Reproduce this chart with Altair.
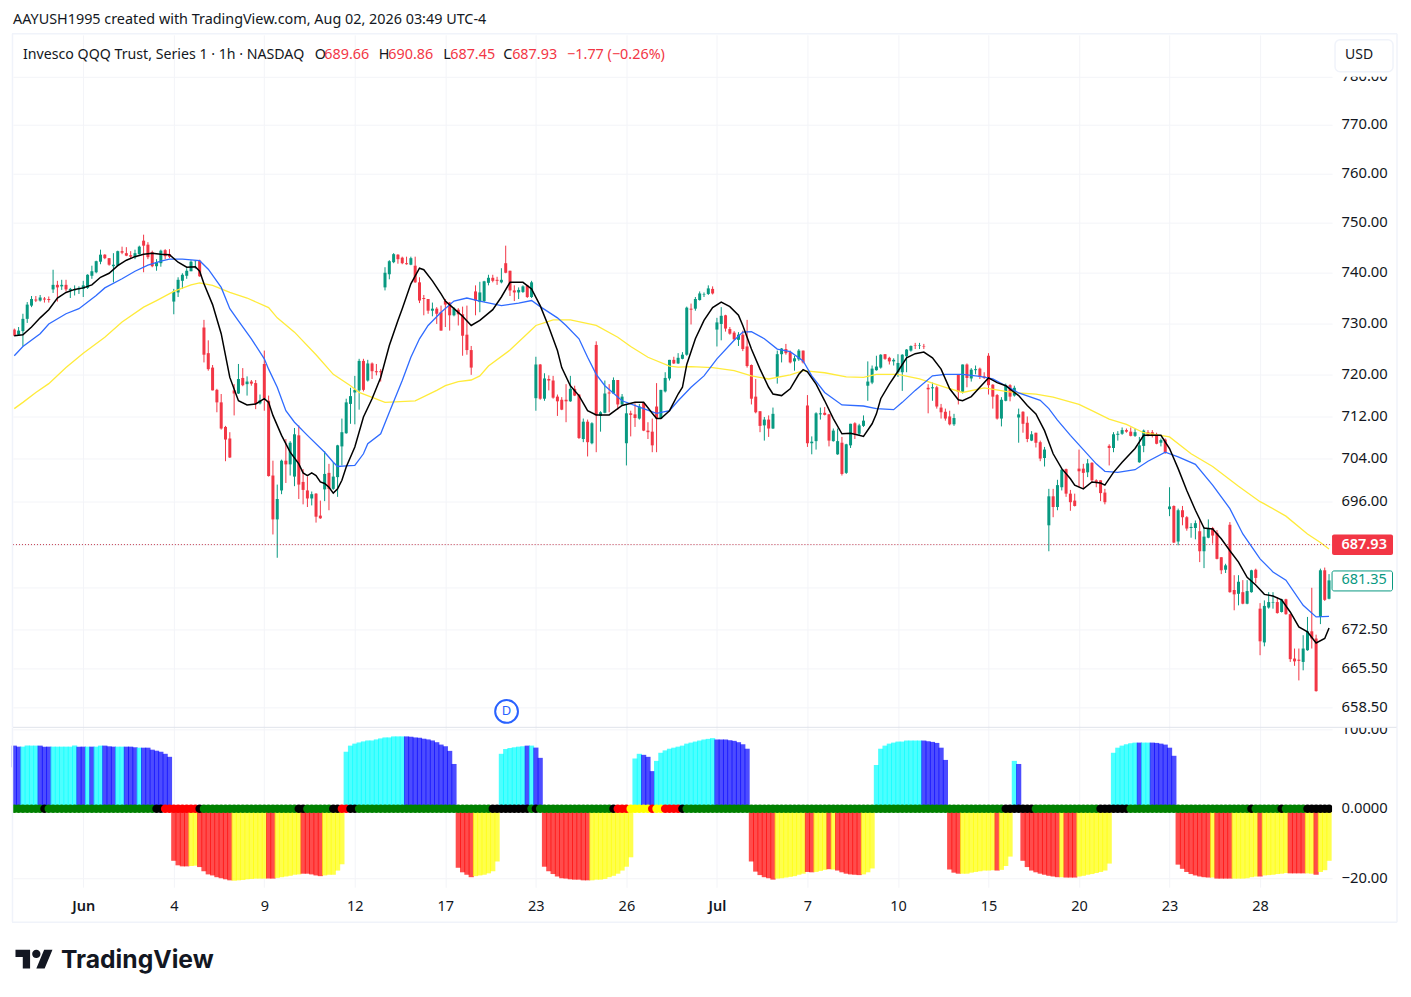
import json
import altair as alt
import pandas as pd

FONT = "Noto Sans"
INK = "#131722"
UP = "#089981"
DOWN = "#f23645"
GRID = "#f3f4f8"
FRAME = "#f0f3fa"

opens = [
728.8,727.8,728.5,730.9,733.5,734.7,734.5,734.9,734.8,736.7,
737.6,737.3,737.6,736.5,736.5,736.7,736.8,737,739.4,740.1,
742.2,743.6,742.9,741.3,741.4,744.3,743.9,743.5,743.1,743.7,
746.4,745.6,744.1,741.3,741.9,744.5,743.7,734.3,736.1,738.4,
739.4,740.3,742.3,742.4,729.2,724.2,721.4,717.1,714.7,710,
707.8,717,716.4,719.4,718.2,718.7,718.4,714.5,722.1,715,
700.8,692.6,698,703.6,702.9,700.6,708.4,699.6,698,696.5,
697.4,693.3,698.2,701.3,698.3,700.5,706.3,708.8,714.4,716.6,
717,722.7,718.9,722.2,720.7,720.7,737.1,739.7,742.1,743.6,
743,741.9,741.6,741.4,738.1,735,734.8,732.5,732.9,732.2,
734.4,734.1,731.6,732.7,731.8,727.8,724.8,736.3,734.2,734.4,
738,739,738.6,738.1,741.9,740.4,736.5,736.1,736.2,737.5,
735.2,715.5,722,715.4,719.2,718.9,715.8,715.2,715.2,714.9,
717.3,716.2,707.7,711,706.9,725.8,712.1,712.7,716.6,716.4,
719,714.3,706.9,712.6,712.4,711.6,714.6,709.3,709.1,713.9,
711.6,716.8,719.3,722.9,722.2,723.1,723.9,732.9,732.9,734.6,
735.7,735.8,736.8,728.8,729.9,731.6,728.9,728.2,726.8,727.8,
725.5,721.9,715.8,713,710.3,711.4,709.7,719.6,724,725,
724.4,722.6,723,724.7,714.1,706.9,707.3,712.4,712.7,712.4,
707.3,704.8,707,701.3,706.5,710.7,708.7,710.2,717.9,718.5,
720.9,721.4,724,723.3,722.6,720.5,720.5,723.6,724.7,725.7,
725.6,725.6,717.5,717.4,717.6,713.7,712.9,712,710.5,720,
716.7,722,719.3,720.9,721.2,719.7,723.7,718.1,716.1,711.6,
715,718,716,711.8,712.9,710.8,707.4,708.9,707.1,704.1,
691.5,696.9,694.9,698.6,702,697.4,696.1,702.1,702.1,701.4,
703.2,699.9,699.9,697.6,706.4,706,708.5,708.7,709.4,709.1,
708.3,703.3,706.4,709,709,708.5,707,707.6,694.5,695.1,
688.5,694.3,693,691,691,690.4,686.7,689.2,691,690.1,
685.6,683.3,691.6,679.6,678.9,679.2,677.1,679.2,683.3,676.2,
670.1,676.4,677.3,677.4,675.6,677.9,675.2,667.2,667,666.6,
668.7,672.1,670.8,674.7,683.2,678]
highs = [
729.0,729.3,731.9,734.2,735.4,735.4,735.6,735.2,735.3,740.6,
738.4,738.6,738.6,737,737.5,737.3,738.4,739.7,741.4,742.4,
744.6,743.7,742.9,743.9,744.4,745.2,745.1,744.3,744.6,745.4,
747.6,746.1,744.4,742.7,744.6,744.7,744.7,736.8,739.1,739.9,
740.9,742.5,742.5,742.6,730.7,726.7,721.9,717.3,716.3,710.2,
709,718.2,722.1,721.3,719.7,719,719,716.2,724.7,716,
703.6,699.1,703.8,707.7,707.3,709.8,710.3,702,700.6,697.8,
697.5,696.1,705.4,703,703.3,706.6,711.6,715.4,717.5,719.8,
723.1,723.1,722.9,722.4,722.1,721.1,741.1,742.5,743.9,743.7,
743.2,743.2,743.2,743.2,739.1,735.6,734.8,734.1,733.2,733.5,
734.8,734.2,733.2,733,733.3,733.5,725.6,737.5,738.2,738.4,
739.6,739.6,739.2,740.9,745.4,740.4,737.5,737.1,737.5,737.6,
738.4,723.5,722.1,720.3,719.9,719.8,716.2,715.7,718.2,719.8,
717.9,716.3,711.6,711.4,710.9,726.5,713,718.9,718.2,719.5,
719,716.3,714.4,713.1,714.5,714.4,714.7,710.9,711.6,718.4,
717.1,720.5,722.9,723.5,724.2,724.4,733.3,733.9,735.2,736.3,
736.1,737.5,737.3,731.1,733.2,731.7,729.3,728.5,728.3,728.6,
730.7,722,719.2,713,711.9,712.2,713.7,724.7,725.2,726,
724.7,723.7,725,724.7,716.1,708.2,712.8,713.7,713.8,712.5,
709.7,709.7,708.1,706.8,710.6,710.9,710.6,712.2,722.6,721.8,
723.7,724,724,723.5,723.2,724,724,725,725.7,726.2,
726.2,726,718.2,718.5,717.9,714.4,713.5,713.1,712.5,720.1,
722,722.2,721.3,721.8,721.4,720.5,724.2,718.2,716.3,715.7,
718.3,718.2,717.9,713.5,713,712,709.2,708.9,707.4,706.2,
698.3,698.3,700,702.1,702.1,698.1,697.4,705.7,703,703.9,
703.3,700.1,699.9,698.3,706.7,709,709.2,709.9,709.7,709.9,
709.7,708.1,709.5,709.4,709.4,708.9,707.8,707.8,698.6,695.2,
694.6,695.1,693.2,691.9,692.4,692.4,691.2,692.6,691.2,690.6,
685.6,684.4,692.1,682.3,682.3,681.4,681.4,683.3,683.5,677.2,
677.7,679.2,679.2,678.3,678,678,675.3,669,669,671.4,
674.7,680,671.5,683.5,683.7,682.5]
lows = [
727.5,727.6,725.5,730.1,733.2,734.2,734.3,734.1,734.1,736,
734.3,736.6,736.3,735,735.5,735.8,735.2,736.8,738.8,739.9,
741.7,742.7,741.4,738.1,741.3,743.7,743.3,742.8,742.7,743.6,
740.1,742.7,741.1,740.4,741.2,742.7,742.9,731.8,735.2,736.8,
738.8,740.3,740.8,739.2,722.4,720.8,717,712.8,709.5,703.5,
704.1,712.2,716.3,717.8,716,717.9,713.4,714.3,713.1,700.6,
689.8,685.5,697.3,699.4,700.8,698.8,696.4,695.4,694.9,695.2,
692,692.7,696,694.3,698.1,696.8,702.7,708.7,710.6,710.5,
713.3,716.8,718.7,719.2,719.9,718.7,736.5,738.7,741.9,741.8,
741.7,741.6,741.5,738,734,731.6,731.9,731.4,729.9,728.6,
729.3,728.6,731.4,729.6,723.7,723.9,720,731.6,732.2,734.2,
737.5,738.1,737.6,737.9,739.9,735.4,734.4,734.8,736,735,
735,713.1,715.2,715,717,715.4,712.1,713.2,710.9,714.8,
715.9,707.7,707.1,704.4,706.7,705.2,709.1,712.6,712.8,716.3,
713.3,714.1,702.7,708.2,710,711.4,709.2,707.7,705.2,705.2,
711.5,716.6,718.9,722.1,722.1,723,723.7,729.8,732.5,734.5,
735.2,735.6,735.7,725.5,726.7,728.4,727.8,726.7,725.6,724.6,
721.4,714.3,712.6,709,707.4,708.1,709.6,718.3,722.4,723.9,
722.2,720.8,722.7,722.2,706.2,704.8,705.7,711.4,712.2,706.3,
707.2,704.7,700.8,701.1,706,707.7,708.4,710,715,718.2,
720.8,721.2,722.9,722,721.8,719.6,716.9,720.5,724.5,725,
725,725,712.6,715,713.5,711.6,711.2,710.3,710.2,714.3,
716.4,717.6,718.7,720.1,719.2,719.2,716.2,713.5,711.4,710.1,
714.9,714.9,715.8,707,708.9,707.1,707.3,706.1,703.5,702.5,
686.7,693,694.3,698,696.8,694.2,695,698.6,698.3,700.5,
699.6,698.6,696,695.4,702.7,705.2,707.4,708.5,708.9,708.2,
708.1,703.2,705.2,708.2,708,706.7,706.3,704.9,693.2,688.2,
687.8,691.5,690.5,689.2,688.9,684.7,683.6,689.1,688.1,685.2,
682.5,682.7,679.1,675.9,676.8,677,677,679.1,680.8,667.8,
669.4,676.2,676.2,675.3,675.5,675.1,666.6,665.9,663.3,665.1,
668.6,669,661.3,673.4,677.6,677.9]
closes = [
727.6,728.6,730.9,733.7,734.8,734.5,735.1,734.7,734.6,737.6,
737.1,737.6,736.7,736.8,736.7,737,737.5,739.6,740.3,742.3,
743.6,742.9,741.6,741.6,744.3,744,743.4,743.2,743.9,745.2,
745.4,743.1,741.3,742.1,744.4,743.3,743.2,736.3,738.6,739.6,
740.4,742.2,742.4,739.3,723.9,721.1,717,714.7,709.7,707.6,
704.2,716.4,719.2,718,718.7,718.3,714.4,715.1,715.4,700.7,
692.6,696.4,703.6,702.9,707,708.6,699.1,698.1,696.5,697.3,
693.1,692.8,701.1,698.3,700.6,706.5,709,714.7,715.9,717.1,
722.7,717.1,722.2,720.7,720.5,720.5,740,742.3,743.7,742.7,
741.9,741.7,742.9,738.1,734.5,734.8,732.5,732.9,731.9,728.6,
733.7,731.6,732.9,731.8,727.6,724.8,721.4,734.5,736.1,738.3,
739,738.4,738.4,738.6,740,736.5,736.1,736.6,737.3,735.2,
738.1,722,715.4,719.3,718.9,715.6,714.9,713.3,714.9,717.3,
716,707.9,711,707.1,710.7,712.2,712.8,716.4,716.4,719,
714.3,715.8,712.6,712.3,711.7,713.9,709.3,709,706.5,711.6,
717.1,719.4,722.9,722.2,723.3,723.9,733.1,732.7,734.8,735.9,
735.8,736.9,735.9,730.2,731.5,729,728,726.9,727.8,725,
721.7,715.4,712.8,710.2,711.4,709.7,712.5,724,725.1,724.2,
722.4,723.2,724.7,722.4,706.9,707.2,712.6,712.6,712.3,707.4,
709.3,707.3,701.1,706.7,710.6,708.7,710.3,711.2,718.7,721.2,
721.6,723.9,723.1,722.6,722.9,722.3,723.9,724.9,725.6,725.6,
725.7,725.5,717.2,717.6,713.9,712.8,711.6,710.5,711.7,716.7,
722,719.4,721,721.1,719.6,719.4,718,715.8,711.6,715.2,
718,715.8,717.5,712.4,710.6,707.7,708.6,707,704,705.7,
696.9,694.9,699,701.9,697.4,695.8,695.1,701.6,701.3,703.1,
699.9,699.5,697.5,695.8,706,708.6,708.7,709.4,709.1,708.3,
709,706.5,709.3,708.4,708.4,706.8,707.5,705.1,695,688.3,
694.3,693,690.9,691.2,691.9,686.7,689.4,691,689.6,685.3,
683.2,684.1,679.2,678.8,681.1,677.1,679.4,683.2,681.8,670.3,
676.7,677.4,677.4,675.4,677.9,675.2,667.1,666.7,666.8,669,
672.1,670.8,661.4,683.2,677.8,681.35]

black_pts = [(0,727.6),(2,727.8),(4,729.3),(6,731.1),(8,732.7),(10,735),(12,736.1),(14,736.7),(16,737),(18,737.6),
(20,739.1),(22,739.9),(24,741.4),(26,742.5),(28,743.2),(30,743.7),(32,743.9),(34,743.7),(36,743.6),(38,742.1),
(40,741.1),(42,741.2),(43,740.3),(44,737.8),(46,733.7),(48,728),(50,719.5),(52,715),(54,714.2),(56,714.4),
(58,715.4),(59,714.7),(60,712.2),(62,708.4),(64,705.2),(66,703),(67,701.3),(68,700.8),(69,701.3),(70,700.8),
(71,699.6),(72,699.3),(73,698.6),(74,697.5),(75,698.3),(76,699.9),(77,702.4),(79,706.2),(81,711.9),(83,715.4),
(85,719.5),(87,725.7),(89,730.6),(90,732.9),(92,737.8),(94,740.9),(95,740.6),(97,738.4),(99,735.8),(100,734.4),
(102,732.9),(104,731.4),(106,729.6),(108,730.6),(111,732.7),(113,735.2),(115,738.1),(116,738.1),(118,738.1),(120,736.8),
(122,733.5),(124,729.3),(126,724.7),(127,721.4),(129,717.9),(131,716),(133,713.1),(135,712.3),(138,712.3),(141,714.1),
(144,714.7),(146,714.7),(148,712.6),(149,711.6),(150,711.6),(152,713.1),(154,716.3),(155,717.6),(156,722),(158,727),
(160,730.6),(162,733.1),(164,734.2),(166,733.3),(168,731.6),(169,729.6),(171,725),(173,721.1),(175,717.6),(176,716.3),
(178,716),(180,717.3),(182,720.1),(183,721),(184,720.6),(186,718.2),(188,715),(190,711.6),(192,708.7),(194,708.8),
(196,708.4),(197,708.2),(199,710.6),(200,712.5),(201,715.4),(203,718.2),(205,720.7),(207,723.3),(209,724.1),(211,724.4),
(213,723.3),(215,721.1),(217,717.3),(219,715.2),(220,715),(222,715.8),(224,717.6),(226,719.4),(228,718.5),(230,717.9),
(232,716.6),(233,716),(235,714.1),(237,712.5),(239,709.3),(241,704.9),(243,702.1),(245,700.2),(246,699),(248,698.3),
(250,699.6),(252,699.4),(253,699),(255,701.4),(257,703.3),(260,705.9),(262,708.4),(264,708.4),(266,708.4),(268,705.9),
(270,702.1),(272,698),(274,694.3),(276,691),(278,690.8),(280,689),(282,686.8),(284,684.7),(286,681.9),(288,680.5),
(290,678.8),(292,678.5),(294,677.8),(296,675.6),(298,672.9),(300,672),(302,670),(304,670.8),(305,672.7)]
blue_pts = [(0,723.7),(2,725.5),(6,728),(8,729.9),(12,731.9),(15,732.9),(19,735.5),(21,737),(25,738.8),(28,740.3),
(31,741.5),(34,742.3),(36,742.7),(39,742.7),(43,742.4),(45,740.7),(48,737.1),(50,732.9),(52,730.5),(55,727),
(58,723.1),(59,721.1),(61,717.6),(63,713.1),(65,710.9),(68,708.4),(72,705.2),(74,703.3),(75,702.5),(77,702.6),
(79,702.7),(81,704.9),(82,706.8),(85,708.7),(87,712.8),(90,718.9),(92,723.4),(94,727),(96,729.6),(99,732.2),
(102,734.4),(105,735),(108,734.4),(113,733.5),(117,734),(120,734.5),(122,733.3),(126,731.1),(128,729.6),(131,727),
(133,723.4),(135,720.1),(137,717.9),(141,715),(145,713.8),(149,712.6),(152,713.1),(154,715),(157,717.6),(160,719.8),
(163,723.1),(167,726.7),(169,728.3),(171,728.4),(174,727),(177,725),(180,724.5),(183,722.7),(185,719.8),(188,716.6),
(192,714.2),(197,714),(200,713.5),(204,713.3),(206,714.7),(209,717),(213,719.8),(216,720.1),(220,720.1),(224,719.7),
(227,719.2),(230,717.9),(233,716.5),(238,715.1),(240,713.5),(242,711.3),(245,708.4),(248,705.7),(251,703),(253,701.6),
(256,701.4),(260,701.9),(263,703.5),(267,705.2),(270,704.3),(274,702.9),(278,699),(282,694.6),(285,689.9),(289,685.3),
(292,682.9),(295,681.4),(299,676.8),(302,674.7),(305,674.8)]
yellow_pts = [(0,713.5),(2,714.7),(5,716.6),(8,718.3),(12,721.4),(16,724.2),(21,727.3),(25,730.3),(30,733.2),(33,734.5),
(37,736.3),(41,737.6),(43,738),(46,737.5),(50,736.1),(54,735),(59,733.1),(61,731.1),(65,728.3),(70,723.9),
(74,720.1),(78,717.9),(80,716.6),(86,714.7),(93,715),(98,717),(100,717.9),(103,718.7),(106,719),(108,719.8),
(110,721.7),(115,724.8),(119,728),(121,729.6),(125,730.7),(129,730.7),(135,729.6),(140,727.3),(143,725.5),(147,723.4),
(152,721.7),(154,721.5),(157,721.6),(162,721.4),(167,720.8),(171,719.8),(175,719.2),(180,720),(183,720.8),(188,720.4),
(193,719.6),(197,719.5),(200,720.1),(205,720.1),(210,719.2),(216,717.6),(220,716.6),(225,717.5),(230,716.8),(233,716.5),
(237,716.3),(241,715.7),(247,714.3),(250,713.1),(254,711.5),(258,710.5),(262,708.9),(268,708.1),(273,704.9),(278,702.5),
(284,698.8),(289,695.9),(290,695.5),(295,693.2),(300,689.9),(303,688.3),(305,687.1)]

hist_values = [
79.5,78.2,78.2,79.5,79.5,79.5,79.5,78.2,78.2,78.2,78.2,78.2,78.2,78.2,79.5,78.2,78.2,78.2,78.2,78.2,79.5,79.5,78.6,78.2,78.2,78.2,78.2,78.2,77.4,76.9,76.9,76.9,74.4,73.1,71.8,69.2,65.4,
-14.9,-16.2,-16.5,-16.5,-16.4,-16.3,-16.7,-17.9,-18.8,-19.1,-19.6,-19.9,-20.2,-20.5,-20.6,-20.5,-20.4,-20.2,-20.1,-20,-20,-20,-20,-20,-19.8,-19.6,-19.4,-19.2,-18.9,-18.8,-18.6,-18.6,-18.8,-19.1,-19.3,-19.1,-18.9,-18.9,-17.7,-15.9,
71.8,79.5,82,83.5,84.8,86,86,87.3,88.6,89.8,89.8,91.1,91.1,91.1,91.1,90.7,89.8,89.4,88.2,87.3,86,83.8,80.8,78.7,72.9,56.4,
-16.9,-18.2,-18.9,-19.6,-19.3,-19.1,-18.9,-18.5,-17.9,-15.1,
69.2,75.2,76.5,77.4,78.2,78.7,79.5,79.5,77,64.1,
-16.6,-17.9,-18.7,-19.4,-19.9,-20,-20.2,-20.3,-20.3,-20.5,-20.5,-20.5,-20.3,-20.3,-20.1,-19.6,-19.2,-18.6,-17.7,-16.6,-13.9,
63.3,69.2,67.9,65.4,47.4,60.3,70.5,73.5,75.6,76.9,78.2,79.5,82,83.3,84.6,85.9,87.2,88,88.9,87.2,87.2,87.2,86.3,85.5,83.8,81.2,75.6,
-15.1,-18,-19,-19.6,-19.9,-20.3,-20,-19.9,-19.7,-19.5,-19.3,-18.9,-18.6,-18.1,-18.2,-18.1,-17.8,-17.5,-17.3,-17.4,-17.7,-18.2,-18.6,-18.8,-18.9,-19,-18.8,-18.2,-17.1,
55.1,75.6,79.5,82,83.3,84.6,84.6,85.9,85.9,85.9,85.9,85.9,85,84.2,82.9,76.9,61.5,
-17.4,-18.3,-18.6,-18.6,-18.6,-18.3,-18.1,-17.9,-17.7,-17.7,-17.6,-17.7,-17.5,-16.4,-13.7,
60.3,56.4,
-14.9,-16.7,-17.7,-18.2,-18.6,-18.9,-19.2,-19.4,-19.6,-19.6,-19.7,-19.7,-19.7,-19.4,-19.2,-18.9,-18.7,-18.4,-18.1,-17.7,-15.7,
70.5,76.9,79.5,81.2,82.5,83.3,83.3,83.3,83.3,83.3,82.9,82,80.8,76.9,66.7,
-16,-17.2,-18.1,-18.7,-19.1,-19.4,-19.6,-19.7,-19.7,-20,-20,-20,-20,-20,-20,-20,-19.9,-19.6,-19.4,-19.4,-19.1,-19,-18.9,-18.7,-18.6,-18.4,-18.5,-18.5,-18.5,-18.5,-18.5,-18.6,-18.9,-18.1,-17.6,-14.9]
hist_runs = [("b",2),("c",4),("b",3),("c",6),("b",2),("c",1),("b",1),("c",2),("b",3),("c",2),("b",3),("c",1),("b",7),
("r",4),("y",2),("r",8),("y",8),("r",2),("y",6),("r",5),("y",5),
("c",14),("b",12),
("r",4),("y",6),
("c",6),("b",1),("c",1),("b",2),
("r",11),("y",10),
("c",2),("b",3),("c",14),("b",8),
("r",6),("y",7),("r",2),("y",3),("r",1),("y",1),("r",6),("y",3),
("c",11),("b",6),
("r",3),("y",8),("r",1),("y",3),
("c",1),("b",1),
("r",9),("y",1),("r",3),("y",8),
("c",6),("b",1),("c",2),("b",6),
("r",8),("y",1),("r",4),("y",6),("r",1),("y",6),("r",4),("y",2),("r",1),("y",3)]
dot_runs = [("g",7),("k",1),("g",25),("k",2),("r",8),("k",1),("g",22),("k",2),("g",6),("k",2),("r",2),("k",2),("g",31),("k",9),("g",1),("k",1),("g",17),("k",1),("r",3),("y",5),("r",1),("y",2),("r",4),("k",1),("g",74),("k",7),("g",15),("k",7),("g",28),("k",1),("g",6),("k",1),("g",5),("k",6)]
hist_palette = {"b":"#0000ff","c":"#00ffff","r":"#ff0000","y":"#ffff00"}
dot_palette = {"g":"#008000","k":"#000000","r":"#ff0000","y":"#ffff00"}

time_ticks = [16,37,58,79,100,121,142,163,184,205,226,247,268,289]
time_names = ["Jun","4","9","12","17","23","26","Jul","7","10","15","20","23","28"]
price_ticks = [780,770,760,750,740,730,720,712,704,696,688,680,672.5,665.5,658.5]
osc_ticks = [100,0,-20]
last_price = 687.93
last_close = 681.35

def expand(runs, palette):
    out = []
    for key, n in runs:
        out += [palette[key]] * n
    return out

n = len(closes)
candles = pd.DataFrame({"i": range(n), "o": opens, "h": highs, "l": lows, "c": closes})
candles["col"] = [UP if c >= o else DOWN for o, c in zip(opens, closes)]
hist = pd.DataFrame({"i": range(n), "v": hist_values, "z": 0, "col": expand(hist_runs, hist_palette)})
dots = pd.DataFrame({"i": range(n), "z": 0, "col": expand(dot_runs, dot_palette)})
def pts(p):
    return pd.DataFrame(p, columns=["i", "v"])

x_scale = alt.Scale(domain=[-0.3, 305.7], nice=False, zero=False, padding=0)
y_scale = alt.Scale(type="log", domain=[655.0, 788.8], nice=False, zero=False)
o_scale = alt.Scale(domain=[-22.9, 0, 100, 102.5], range=[161.5, 81.5, 2, 0], nice=False, zero=False)
name_map = json.dumps({str(k): v for k, v in zip(time_ticks, time_names)})
bold_test = "datum.value==16||datum.value==163"

x_grid = alt.Axis(values=time_ticks, labels=False, grid=True, gridColor=GRID, domain=False, ticks=False, title=None)
x_axis = alt.Axis(values=time_ticks, labelExpr=f"{name_map}[datum.value]", grid=True, gridColor=GRID,
                  domain=False, ticks=False, title=None, labelFont=FONT, labelFontSize=14.5, labelColor=INK,
                  labelPadding=12, labelOverlap=False, labelFlush=False,
                  labelFontWeight={"expr": f"{bold_test}?600:400"})
y_axis = alt.Axis(orient="right", values=price_ticks, grid=True, gridColor=GRID, domain=False, ticks=False, title=None,
                  labelExpr="datum.value==688||datum.value==680?'':format(datum.value,'.2f')",
                  labelFont=FONT, labelFontSize=14.8, labelColor=INK, labelPadding=9, labelOverlap=False, labelFlush=False)
o_axis = alt.Axis(orient="right", values=osc_ticks, grid=True, gridColor=GRID, domain=False, ticks=False, title=None,
                  labelExpr="datum.value==0?'0.0000':replace(format(datum.value,'.2f'),'-','\u2212')",
                  labelFont=FONT, labelFontSize=14.8, labelColor=INK, labelPadding=9, labelOverlap=False, labelFlush=False)

one = pd.DataFrame({"a": [0]})
def txt(t, x, y, color=INK, size=14.4, weight=400, align="left", font=FONT):
    return alt.Chart(one).mark_text(align=align, baseline="middle", font=font, fontSize=size,
                                    fontWeight=weight, color=color).encode(
        x=alt.value(x), y=alt.value(y), text=alt.value(t))
def box(x, x2, y, y2, fill, stroke=None, radius=0, sw=1):
    kw = {"fill": fill, "cornerRadius": radius}
    if stroke:
        kw.update(stroke=stroke, strokeWidth=sw)
    return alt.Chart(one).mark_rect(**kw).encode(x=alt.value(x), x2=alt.value(x2), y=alt.value(y), y2=alt.value(y2))
def line(x, x2, y, y2, color=FRAME, w=1.5):
    return alt.Chart(one).mark_rule(color=color, strokeWidth=w).encode(
        x=alt.value(x), x2=alt.value(x2), y=alt.value(y), y2=alt.value(y2))

X = alt.X("i:Q", scale=x_scale, axis=x_grid)
Y = lambda f: alt.Y(f, scale=y_scale, axis=y_axis)

wicks = alt.Chart(candles).mark_rule(strokeWidth=1).encode(
    x=X, y=Y("l:Q"), y2="h:Q", color=alt.Color("col:N", scale=None))
bodies = alt.Chart(candles).mark_bar(size=3, orient="vertical").encode(
    x=X, y=Y("o:Q"), y2="c:Q", color=alt.Color("col:N", scale=None))
def ma(p, color, w):
    return alt.Chart(pts(p)).mark_line(color=color, strokeWidth=w).encode(x=X, y=Y("v:Q"))
last_df = pd.DataFrame({"p": [last_price], "t": ["687.93"]})
close_df = pd.DataFrame({"p": [last_close], "t": ["681.35"]})
dotted = alt.Chart(last_df).mark_rule(color="#c2384a", strokeWidth=1, strokeDash=[1, 2]).encode(
    x=alt.value(0), x2=alt.value(1320), y=Y("p:Q"))
d_badge = alt.Chart(pd.DataFrame({"i": [114.2], "p": [657.8]})).mark_point(
    shape="circle", size=520, filled=False, fill="white", fillOpacity=1, stroke="#2962ff", strokeWidth=2, opacity=1).encode(x=X, y=Y("p:Q"))
d_text = alt.Chart(pd.DataFrame({"i": [114.2], "p": [657.8]})).mark_text(
    text="D", font=FONT, fontSize=13, color="#2962ff", baseline="middle").encode(x=X, y=Y("p:Q"))
last_text = alt.Chart(last_df).mark_text(align="left", baseline="middle", font=FONT, fontSize=14.5, fontWeight=600, color="white").encode(
    x=alt.value(1329.5), y=Y("p:Q"), text="t:N")
close_text = alt.Chart(close_df).mark_text(align="left", baseline="middle", font=FONT, fontSize=14.5, color=UP).encode(
    x=alt.value(1329.5), y=Y("p:Q"), text="t:N")

top = alt.layer(
    wicks, bodies,
    ma(yellow_pts, "#ffeb3b", 1.3), ma(blue_pts, "#2f6bff", 1.3), ma(black_pts, "#000000", 1.5),
    dotted, d_badge, d_text,
    box(1320, 1381, 500, 520.5, DOWN, radius=2), last_text,
    box(1320, 1380.5, 536.5, 556.5, "white", stroke=UP, radius=2), close_text,
    box(1320, 1384, 1, 42, "white"),
    box(1323, 1381, 5, 37, "white", stroke=FRAME, radius=5, sw=1.5),
    txt("USD", 1347, 20.5, size=14, align="center"),
    txt("AAYUSH1995 created with TradingView.com, Aug 02, 2026 03:49 UTC-4", 0, -15),
    txt("Invesco QQQ Trust, Series 1 \u00b7 1h \u00b7 NASDAQ", 10, 20, size=14.2),
    txt("O", 302, 20), txt("689.66", 311.5, 20, DOWN),
    txt("H", 366, 20), txt("690.86", 375.5, 20, DOWN),
    txt("L", 430.5, 20), txt("687.45", 437.5, 20, DOWN),
    txt("C", 490.5, 20), txt("687.93", 499.5, 20, DOWN),
    txt("\u22121.77 (\u22120.26%)", 554.5, 20, DOWN),
    line(-1, 1385, -1, -1), line(-0.5, -0.5, -1, 693), line(1385, 1385, -1, 693),
).properties(width=1320, height=693)

Xb = alt.X("i:Q", scale=x_scale, axis=x_axis)
Yo = lambda f: alt.Y(f, scale=o_scale, axis=o_axis)
bars = alt.Chart(hist).mark_bar(size=5.2, orient="vertical", opacity=0.7).encode(
    x=Xb, y=Yo("v:Q"), y2="z:Q", color=alt.Color("col:N", scale=None))
beads = alt.Chart(dots).mark_point(shape="circle", filled=True, size=72, opacity=1).encode(
    x=Xb, y=Yo("z:Q"), color=alt.Color("col:N", scale=None), order=alt.Order("i:Q"))
LOGO = ("M-0.211 0.507H-0.606V-0.113H-1V-0.507H-0.211Z"
        "M0.577 0.507H0.127L0.549 -0.507H1Z"
        "M-0.098 -0.282A0.225 0.225 0 1 0 0.352 -0.282A0.225 0.225 0 1 0 -0.098 -0.282Z")
logo = alt.Chart(one).mark_point(shape=LOGO, filled=True, size=1369, color=INK, opacity=1).encode(
    x=alt.value(21), y=alt.value(232))
bottom = alt.layer(
    bars, beads,
    box(-5, -0.5, 40, 150, "white"),
    box(1320, 1328, 40, 150, "white"),
    box(1321, 1384, -12, 0, "white"),
    line(0, 1385, 0, 0, "#e0e3eb", 1),
    line(-0.5, -0.5, 0, 195), line(1385, 1385, 0, 195), line(-1, 1385, 195, 195),
    logo,
    txt("TradingView", 48, 234, size=24.7, weight=700, font="Inter"),
).properties(width=1320, height=160)

chart = alt.vconcat(top, bottom, spacing=0, bounds="flush").properties(
    padding={"left": 0, "top": 3.5, "right": 5, "bottom": 5}, background="white"
).configure_view(stroke=None)

chart.save("out.html", embed_options={"renderer": "svg", "actions": False})
